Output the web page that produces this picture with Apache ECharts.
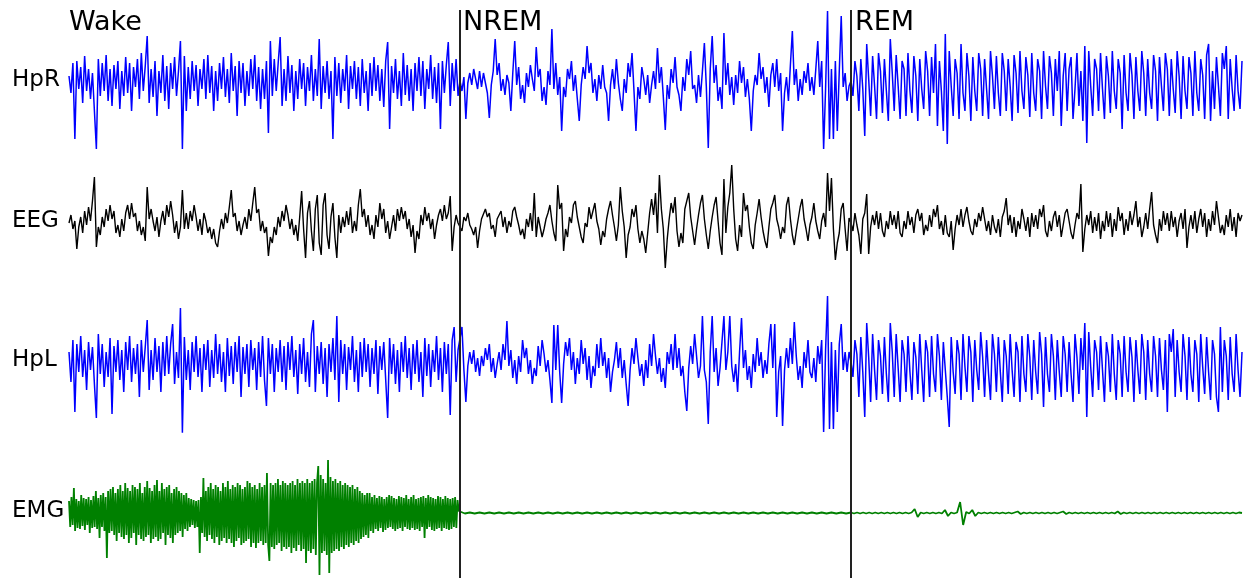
<!DOCTYPE html>
<html>
<head>
<meta charset="utf-8">
<script src="https://cdn.jsdelivr.net/npm/echarts@6/dist/echarts.min.js"></script>
<style>
  html, body { margin: 0; padding: 0; background: #fff; }
  #chart { width: 1253px; height: 578px; }
</style>
</head>
<body>
<div id="chart"></div>
<script>
  // stages along the x axis (one unit per stage) and channel names
  const stages = ['Wake', 'NREM', 'REM']
  const channels = ['HpR', 'EEG', 'HpL', 'EMG']
  const stageBounds = [1, 2]

  // HpR (right hippocampus), up = positive
  const hprWake = [
    5,-12,18,-58,20,-8,14,-22,25,-10, 12,-18,8,-30,-68,22,-15,18,-10,26,
    -20,12,-25,16,-8,20,-28,10,-15,24, -12,18,-30,14,-6,22,-18,28,-10,15,
    45,-22,12,-16,20,-35,10,-12,26,-20, 15,-28,18,-8,24,-15,10,40,-68,25,
    -30,14,-18,20,-10,16,-25,12,-8,22, -18,26,-12,15,-30,10,-20,18,-8,24,
    -16,12,-22,28,-10,15,-35,20,-12,18, -25,10,-15,22,-8,26,-20,14,-28,12,
    -18,20,-52,40,-15,22,-10,18,44,-25, 12,-20,25,-12,16,-30,10,-18,22,-8,
    18,-25,14,-10,26,-20,12,-15,42,-28, 15,-12,20,-18,10,-58,24,-15,18,-22,
    12,-10,26,-28,15,-8,20,-18,14,-25, 22,-12,10,-30,18,-15,24,-10,16,-20,
    12,-26,20,39,-48,15,-12,22,-18,10, -25,28,-14,16,-20,12,-30,18,-10,24,
    -15,20,-28,12,-8,26,-18,14,-22,18, -48,20,-12,16,39,-25,18,-10,22,-15
  ]
  const hprNrem = [
    0,-10,4,-38,-2,8,-4,12,2,-8, 10,-6,8,-2,-12,-37,-4,10,42,6,
    18,-10,2,-14,6,-2,-30,8,40,-4, 14,-18,-4,-22,8,-6,16,2,-10,34,
    4,12,-20,-6,-24,10,-4,52,-8,18, -14,4,-50,-6,-16,12,2,20,-10,6,
    -18,-40,-4,14,2,35,8,18,-12,2, -20,6,-8,16,-6,-12,-40,-4,12,-8,
    22,-2,-18,-30,2,-12,18,4,28,-10, -50,-6,-18,14,2,-14,6,-22,-4,10,
    -8,33,-2,14,-16,-49,-4,-18,12,-2, 24,-6,-14,-30,4,-10,22,6,30,-8,
    -4,-22,6,-16,10,38,-6,-67,12,45, -2,16,-20,-6,-28,48,-4,18,-14,4,
    -24,6,-12,20,-2,14,-16,2,-18,-50, -10,6,-4,28,2,14,-12,4,-26,6,
    18,-6,22,-10,8,-50,-12,4,-20,16, 50,-4,12,-20,2,-14,10,-2,18,-10,
    4,-14,12,40,-6,20,-68,-8,70,-58, 12,-58,20,-50,10,65,-6,8,-20,-5
  ]
  const hprRem = [
    0,-15,20,5,-30,22,-8,-55,37,2, -35,25,-5,-38,28,10,-32,22,-10,-40,
    42,8,-30,26,-5,-38,20,12,-35,28, -10,-32,25,5,-40,22,-8,-28,30,10,
    -35,24,-12,37,-45,20,-10,-50,47,-63, 30,-5,-35,22,8,-38,37,-12,-30,28,
    5,-40,24,-10,-30,28,12,-35,22,-8, -38,30,5,-28,25,-12,-35,28,10,-30,
    22,-5,-40,26,8,-32,30,-10,-28,24, 6,-36,28,-12,-30,22,10,-38,30,-5,
    -28,25,8,-35,22,-10,30,-45,5,28, -30,12,24,-38,-8,28,-25,10,-40,35,
    -62,30,-5,-35,22,12,-30,28,-8,-38, 25,5,-32,30,-10,-28,22,8,-48,26,
    -12,-30,28,6,-38,24,-10,-30,30,8, -35,22,-12,-28,26,10,-40,24,-5,-30,
    28,12,-35,22,-8,-32,30,5,-38,25, -10,-28,24,8,-35,30,-12,-30,22,6,
    -38,26,37,-40,10,-28,24,-5,-35,28, 12,35,-38,22,-8,-30,26,-10,-28,20
  ]

  // EEG
  const eegWake = [
    0,8,-6,2,-26,-4,6,-10,12,-2, 16,2,22,46,-24,-4,-12,6,-4,14,
    2,18,4,12,-10,-2,-14,4,-8,10, 18,4,20,6,10,-8,2,-12,-4,-18,
    36,4,14,2,-8,6,-14,2,12,-2, 18,6,22,8,-10,2,-16,-4,33,-6,
    10,-6,12,2,18,6,-8,4,-12,10, 2,-10,-4,-16,-6,-20,-24,-8,4,-6,
    10,0,16,33,6,10,-8,2,-12,-2, 6,-6,14,2,20,36,10,14,-8,2,
    -10,-4,-33,-14,-20,-4,-12,6,-4,12, 2,18,8,-6,4,-12,-2,-18,6,32,
    -6,-35,10,22,-8,-28,14,28,-20,-32, 18,30,-12,-26,6,20,-14,-35,8,-10,
    6,-4,12,-2,16,-10,2,-8,18,34, 6,14,-4,8,-12,-2,-16,8,-4,20,
    4,14,-10,2,-16,-4,8,-8,14,2, 16,4,12,-6,4,-14,-2,-30,-8,-16,
    8,-2,16,2,10,-6,4,-16,-2,8, 14,2,18,4,10,27,-28,-4,8,0
  ]
  const eegNrem = [
    0,-8,6,2,10,-2,-6,-12,-4,-25, -8,4,2,14,6,10,-6,-2,-14,4,
    2,12,-4,6,-10,2,-4,12,16,6, -2,-12,-6,-16,4,-4,10,-8,30,-14,
    6,-4,-14,-6,4,10,18,2,-10,-18, 38,14,20,-28,-6,-14,6,0,18,22,
    6,-4,-14,-20,0,-4,16,4,12,20, 2,-6,-22,-8,-14,4,14,22,8,-4,
    -18,-2,36,12,-4,-35,-12,-4,14,6, 18,-6,-20,-8,-16,-30,-10,10,24,8,
    30,-10,48,14,-6,-45,-16,4,20,10, 26,-8,-24,-10,-20,14,22,30,6,-8,
    -22,-6,8,20,28,4,-12,-26,-8,6, 18,26,2,-20,-32,44,-10,16,30,58,
    14,-16,-28,-2,-14,30,12,18,-4,-20, -26,-2,10,24,6,-8,-18,-25,-4,14,
    20,28,4,-4,-16,-4,-10,18,26,4, -12,-22,-8,4,16,24,4,-6,-18,-2,
    6,20,2,-8,-16,2,10,-4,50,12, 45,-6,-37,-20,-10,14,20,-6,-28,5
  ]
  const eegRem = [
    0,-8,10,-2,-12,-31,4,10,29,-31, -4,8,-2,12,-6,10,-8,-14,2,-6,
    12,-2,8,-6,12,-10,-14,2,-6,12, -2,6,-10,8,14,2,10,-12,-2,-8,
    8,-4,14,6,18,-6,2,-12,8,-10, -14,2,-27,-6,8,-2,14,-4,8,16,
    2,-8,-12,4,-4,10,2,16,4,-8, 2,-12,8,-4,-10,4,-14,6,12,25,
    -2,8,-10,6,-14,2,-6,14,4,-8, 6,-14,10,-4,8,-6,14,6,18,-8,
    -14,2,-8,6,12,-4,8,-14,-2,10, 14,2,-10,-16,-2,10,4,39,-29,-6,
    8,-2,12,-10,6,-8,10,-16,2,-8, 12,-4,10,-14,4,-8,16,2,10,-12,
    4,-8,12,-2,8,22,-4,6,-14,-4, 10,-6,14,31,-2,-12,-20,4,-8,12,
    -2,10,-8,12,-4,6,-14,2,10,-6, 14,-25,-4,8,-6,12,-10,4,14,-4,
    10,-14,4,-8,12,-2,22,6,-10,-2, -12,8,-4,14,-8,6,-14,10,2,8
  ]

  // HpL (left hippocampus)
  const hplWake = [
    10,-20,22,-50,18,-10,26,-15,12,-28, 20,-8,15,-22,-56,28,-12,18,-25,10,
    -15,24,-52,16,-10,22,-18,12,-30,20, -8,26,-20,14,-12,18,-35,22,-10,15,
    42,-28,12,-18,24,-10,16,-30,20,-14, 26,-12,18,38,-22,10,-16,54,-71,25,
    -18,12,-28,20,-10,26,-15,14,-30,18, -8,22,-25,12,-16,28,-12,18,-20,10,
    -30,24,-14,16,-22,20,-10,26,-35,15, -12,18,-25,22,-8,14,-28,20,-15,26,
    -18,-44,24,-12,18,-30,14,-10,22,-20, 16,-28,20,-8,26,-15,12,-32,18,-12,
    24,-20,10,-25,28,42,-30,16,-12,20, -22,14,-35,18,-10,24,-18,46,-40,22,
    -12,18,-28,15,-8,26,-20,12,-30,20, -15,24,-10,18,-25,14,-12,22,-32,16,
    -8,20,-18,-56,24,-12,18,-22,12,-30, 20,-10,26,-16,14,-28,18,-12,22,-20,
    10,-35,24,-14,18,-25,12,-10,26,-18, 14,-30,20,-12,18,-53,22,35,-20,12
  ]
  const hplNrem = [
    10,35,-8,-40,-4,10,-2,12,-10,4, -14,6,-4,14,2,18,-10,4,-16,-2,
    10,-8,18,2,41,-4,12,-16,2,-22, 6,-10,22,4,14,-12,2,-22,-6,-14,
    16,-4,22,8,-10,2,-18,-41,37,-8, 37,-10,-41,-2,20,6,24,-8,10,-22,
    4,-12,22,-2,14,-18,6,-26,-4,-14, 18,-6,24,-4,10,-16,4,-30,-10,2,
    20,-6,14,-16,2,-22,-44,-8,14,-2, 24,4,-14,-2,-24,2,-16,18,-4,28,
    6,-12,4,-20,-6,-26,10,-2,18,-8, 28,-6,14,-14,-4,-30,-49,-6,16,-2,
    28,6,-16,-4,46,-8,-20,-62,10,46, -10,14,-24,-6,20,46,-8,10,46,-4,
    -20,-2,-30,10,44,-6,12,-18,-4,-26, 8,-10,24,-4,10,-16,2,-12,18,38,
    -6,38,-55,-10,6,-64,-8,14,-6,24, -2,40,6,-18,-4,-26,10,-6,22,-10,
    -16,4,-20,16,-2,22,-70,12,66,-67, 20,-67,12,-50,18,38,-8,10,-10,10
  ]
  const hplRem = [
    0,-15,22,8,-35,25,-10,-55,39,5, -40,28,-8,-38,22,6,-32,25,-12,-40,
    39,10,-35,28,-6,-40,22,8,-30,26, -10,-38,20,5,-32,28,-8,-40,22,10,
    -35,26,-12,-30,28,6,-38,20,-8,-35, -65,25,-10,-32,22,8,-38,28,-5,-30,
    26,10,-40,22,-8,-28,30,5,-35,22, -12,-38,28,8,-30,25,-10,-40,22,6,
    -32,28,-8,-35,20,10,-40,26,-12,-30, 28,5,-38,22,-10,-32,30,8,-45,25,
    -12,-30,28,6,-38,22,-10,-35,26,8, -30,20,-12,-40,28,5,-32,24,-8,39,
    -55,30,-5,-35,22,10,-28,26,-8,-40, 20,6,-30,28,-12,-38,22,8,-35,26,
    -10,-30,25,5,-40,22,-8,-32,28,10, -38,22,-12,-30,26,6,-35,24,-8,-28,
    22,-50,28,10,33,-35,22,-10,-30,28, 6,-38,25,-12,-30,22,8,-40,28,-5,
    -32,25,-10,-38,22,8,-35,-50,35,-30, 22,6,-38,25,-12,-30,28,-8,-35,10
  ]

  // EMG
  const emgWake = [
    12,-14,16,-12,25,-18,14,-15,12,-16, 18,-13,15,-17,14,-12,16,-20,13,-15,
    17,-14,22,-16,15,-25,18,-14,20,-18, 16,-45,22,-20,24,-18,26,-22,20,-28,
    24,-20,28,-24,22,-26,30,-22,25,-30, 22,-25,28,-20,26,-32,24,-22,30,-26,
    20,-28,26,-24,32,-22,25,-30,22,-26, 28,-24,33,-28,22,-26,30,-20,24,-32,
    26,-22,28,-25,20,-30,24,-22,26,-20, 22,-18,20,-24,18,-16,20,-18,15,-14,
    14,-12,13,-15,12,-14,13,-40,16,-20, 35,-24,22,-28,26,-22,30,-26,24,-30,
    28,-24,26,-32,22,-28,30,-25,26,-30, 32,-26,24,-30,28,-34,26,-28,30,-25,
    28,-32,24,-30,26,-28,32,-26,30,-34, 26,-30,28,-35,24,-30,30,-28,26,-32,
    28,-30,40,-32,-48,30,-34,28,-36,30, -32,34,-30,28,-38,32,-34,30,-36,28,
    -34,30,-40,32,-35,28,-38,34,-32,30, -38,32,-36,30,-50,34,-38,30,-40,32,
    -36,34,-42,30,47,-62,38,-40,34,-38, 30,-42,53,-60,36,-40,32,-38,34,-36,
    30,-38,32,-34,28,-36,30,-32,28,-34, 26,-30,28,-32,24,-28,26,-30,22,-26,
    20,-24,18,-22,20,-25,20,-18,16,-20, 18,-16,15,-18,17,-15,16,-19,14,-17,
    16,-15,18,-14,17,-16,15,-18,14,-16, 17,-15,16,-18,15,-14,18,-16,14,-17,
    16,-15,18,-17,14,-16,15,-18,16,-14, 17,-25,15,-16,18,-14,16,-17,15,-18,
    14,-16,17,-15,16,-18,14,-15,17,-16, 15,-17,14,-16,15,-14,16,-15,13,2
  ]
  const emgNrem = [
    0.5,-0.5,0.5,-0.5,0.5,-0.5,0.5,-0.5,0.5,-0.5, 0.5,-0.5,0.5,-0.5,0.5,-0.5,0.5,-0.5,0.5,-0.5,
    0.5,-0.5,0.5,-0.5,0.5,-0.5,0.5,-0.5,0.5,-0.5, 0.5,-0.5,0.5,-0.5,0.5,-0.5,0.5,-0.5,0.5,-0.5,
    0.5,-0.5,0.5,-0.5,0.5,-0.5,0.5,-0.5,0.5,-0.5, 0.5,-0.5,0.5,-0.5,0.5,-0.5,0.5,-0.5,0.5,-0.5,
    0.5,-0.5,0.5,-0.5,0.5,-0.5,0.5,-0.5,0.5,-0.5, 0.5,-0.5,0.5,-0.5,0.5,-0.5,0.5,-0.5,0.5,-0.5
  ]
  const emgRem = [
    0.5,-0.5,0.5,-0.5,0.5,-0.5,0.5,-0.5,0.5,-0.5, 0.5,-0.5,0.5,-0.5,0.5,-0.5,0.5,-0.5,0.5,-0.5,
    0.5,4,-4,0.5,-0.5,0.5,-0.5,0.5,-0.5,0.5, -0.5,3,-3,0.5,-0.5,0.5,11,-12,1,-0.5,
    3,-3,0.5,-0.5,0.5,-0.5,0.5,-0.5,0.5,-0.5, 0.5,-0.5,0.5,-0.5,0.5,1.5,-1,0.5,-0.5,0.5,
    -0.5,0.5,-0.5,0.5,-0.5,0.5,-0.5,0.5,-0.5,0.5, 1.5,-1,0.5,-0.5,0.5,-0.5,0.5,-0.5,0.5,-0.5,
    0.5,-0.5,0.5,-0.5,0.5,-0.5,0.5,-0.5,1.5,-1, 0.5,-0.5,0.5,-0.5,0.5,-0.5,0.5,-0.5,0.5,-0.5,
    0.5,-0.5,0.5,-0.5,0.5,-0.5,0.5,-0.5,0.5,-0.5, 0.5,-0.5,0.5,-0.5,0.5,-0.5,0.5,-0.5,0.5,-0.5,
    0.5,-0.5,0.5,-0.5,0.5,-0.5,0.5,-0.5,0.5,0
  ]

  const traces = [
    { name: 'HpR', segs: [hprWake, hprNrem, hprRem], color: '#0000ff', width: 1.5 },
    { name: 'EEG', segs: [eegWake, eegNrem, eegRem], color: '#000000', width: 1.4 },
    { name: 'HpL', segs: [hplWake, hplNrem, hplRem], color: '#0000ff', width: 1.5 },
    { name: 'EMG', segs: [emgWake, emgNrem, emgRem], color: '#008000', width: 1.8 }
  ]

  // each stage takes one unit of x, its samples spread evenly inside it
  function joinSegments(segs) {
    const out = []
    segs.forEach((seg, s) => {
      const n = s === segs.length - 1 ? seg.length - 1 : seg.length
      seg.forEach((v, i) => out.push([s + i / n, v]))
    })
    return out
  }

  const chart = echarts.init(document.getElementById('chart'), null, { renderer: 'canvas' })

  const gridBoxes = [
    { top: 6, height: 150, min: -75, max: 75 },
    { top: 163, height: 120, min: -60, max: 60 },
    { top: 292, height: 140, min: -70, max: 70 },
    { top: 453, height: 125, min: -65, max: 60 }
  ]

  const grid = gridBoxes.map(g => ({ left: 69, right: 11, top: g.top, height: g.height }))
  grid.push({ left: 69, right: 11, top: 10, bottom: 0 })

  const xAxis = grid.map((g, i) => ({
    type: 'value', gridIndex: i, min: 0, max: stages.length,
    show: i === 4, position: 'top',
    axisLine: { show: true, lineStyle: { color: '#ececec', width: 1 } },
    axisTick: { show: false }, axisLabel: { show: false }, splitLine: { show: false }
  }))
  const yAxis = gridBoxes.map((g, i) => ({
    type: 'value', gridIndex: i, min: g.min, max: g.max, show: false
  }))
  yAxis.push({ type: 'value', gridIndex: 4, min: 0, max: 1, show: false })

  const series = traces.map((t, i) => ({
    name: t.name,
    type: 'line',
    xAxisIndex: i,
    yAxisIndex: i,
    data: joinSegments(t.segs),
    symbol: 'none',
    sampling: null,
    lineStyle: { color: t.color, width: t.width },
    z: 2
  }))
  stageBounds.forEach(b => {
    series.push({
      type: 'line', xAxisIndex: 4, yAxisIndex: 4,
      data: [[b, 0], [b, 1]],
      symbol: 'none',
      lineStyle: { color: '#222', width: 2 },
      z: 5
    })
  })

  const labelFont = 'DejaVu Sans'
  const stageX = [69, 463, 855]
  const channelY = [82, 223, 362, 513]
  const graphic = []
  stages.forEach((s, i) => {
    graphic.push({
      type: 'text', left: stageX[i], top: 9,
      style: { text: s, fill: '#000', font: '27px ' + labelFont }
    })
  })
  channels.forEach((c, i) => {
    graphic.push({
      type: 'text', left: 12, top: channelY[i] - 13,
      style: { text: c, fill: '#000', font: '23px ' + labelFont }
    })
  })

  chart.setOption({
    animation: false,
    backgroundColor: '#fff',
    grid: grid,
    xAxis: xAxis,
    yAxis: yAxis,
    series: series,
    graphic: graphic
  })
</script>
</body>
</html>
